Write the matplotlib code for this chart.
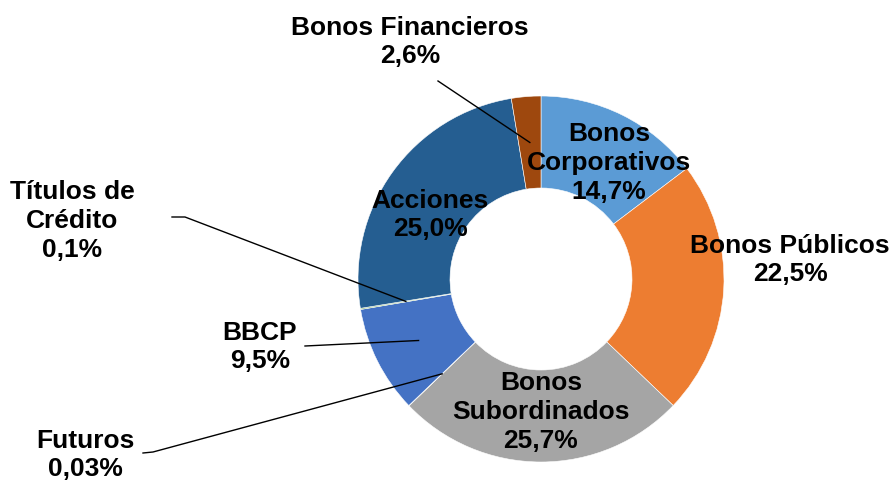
import numpy as np
import matplotlib.pyplot as plt

plt.rcParams['font.family'] = ['Liberation Sans', 'DejaVu Sans']

categorias = ["Bonos\nCorporativos", "Bonos Públicos", "Bonos\nSubordinados", "Futuros",
              "BBCP", "Títulos de\nCrédito", "Acciones", "Bonos Financieros"]
porcentajes = [14.7, 22.5, 25.7, 0.03, 9.5, 0.1, 25.0, 2.6]
etiquetas_pct = ["14,7%", "22,5%", "25,7%", "0,03%", "9,5%", "0,1%", "25,0%", "2,6%"]
colores = ["#5B9BD5", "#ED7D31", "#A5A5A5", "#FFC000", "#4472C4", "#70AD47", "#255E91", "#9E480E"]

W, H = 892, 485
cx, cy = 541, H - 280
r_out, ancho = 183, 92

fig = plt.figure(figsize=(W / 100, H / 100), dpi=100)
ax = fig.add_axes([0, 0, 1, 1])
ax.pie(porcentajes, colors=colores, startangle=90, counterclock=False,
       radius=r_out, center=(cx, cy),
       wedgeprops=dict(width=ancho, edgecolor='white', linewidth=0.4))
ax.set_xlim(0, W)
ax.set_ylim(0, H)
ax.set_aspect('equal')
ax.axis('off')

# posicion de cada etiqueta (coordenadas de imagen) y codo de la linea guia
pos_texto = [(609, 163), (790, 260), (541, 412), (85, 455),
             (260, 347), (72, 221), (430, 215), (410, 42)]
linea_desde = [None, None, None, [(143, 454), (153, 453)], [(305, 347)],
               [(172, 218), (185, 218)], None, [(438, 82)]]

total = sum(porcentajes)
acum = np.cumsum(porcentajes) - np.array(porcentajes) / 2
r_mid = r_out - ancho / 2
for i in range(len(categorias)):
    x, y = pos_texto[i]
    ax.text(x, H - y, categorias[i] + "\n" + etiquetas_pct[i], ha='center', va='center',
            fontsize=19, fontweight='bold', linespacing=1.26)
    if linea_desde[i] is not None:
        ang = np.deg2rad(90 - acum[i] / total * 360)
        px = cx + r_mid * np.cos(ang)
        py = cy + r_mid * np.sin(ang)
        xs = [p[0] for p in linea_desde[i]] + [px]
        ys = [H - p[1] for p in linea_desde[i]] + [py]
        ax.plot(xs, ys, color='black', linewidth=1)

fig.savefig("out.png", dpi=100)
